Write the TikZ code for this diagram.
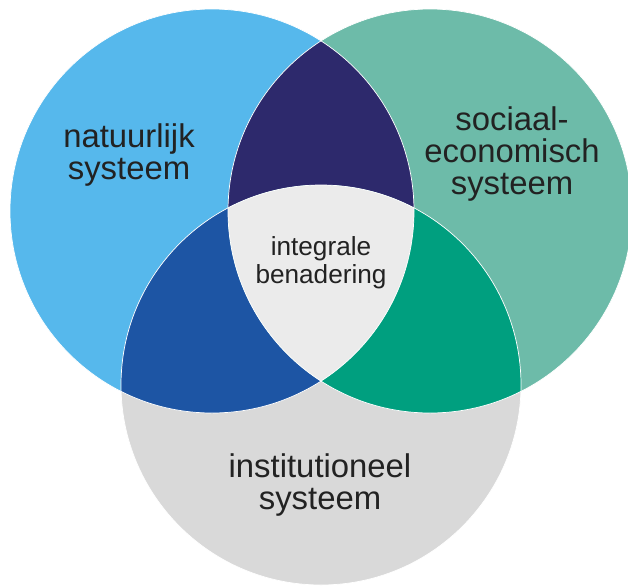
\documentclass[tikz,border=0pt]{standalone}
\usepackage{fontspec}
\setmainfont{Liberation Sans}
\definecolor{natblue}{HTML}{56B8EC}
\definecolor{socteal}{HTML}{6DBBA9}
\definecolor{insgray}{HTML}{D9D9D9}
\definecolor{natsoc}{HTML}{2D296C}
\definecolor{natins}{HTML}{1D55A4}
\definecolor{socins}{HTML}{009F7F}
\definecolor{allthree}{HTML}{EBEBEB}
\definecolor{lbltext}{HTML}{222222}
\usetikzlibrary{positioning}

\begin{document}
\begin{tikzpicture}[
  x=0.02cm,y=-0.02cm,
  lbl/.style={font=\fontsize{18.7}{18.1}\selectfont,text=lbltext,align=center,inner sep=0pt},
  midlbl/.style={font=\fontsize{14.9}{15.9}\selectfont,text=lbltext,align=center,inner sep=0pt},
  edge/.style={white,line width=0.4pt}
]
  \useasboundingbox (0,0) rectangle (628,585);
  % circle centres
  \coordinate (cnat) at (212,211);
  \coordinate (csoc) at (430,211);
  \coordinate (cins) at (321,385);
  % the three systems
  \fill[natblue] (cnat) circle[radius=202];
  \fill[socteal] (csoc) circle[radius=202];
  \fill[insgray] (cins) circle[radius=200];
  % overlaps
  \begin{scope}
    \clip (cnat) circle[radius=202];
    \fill[natsoc] (csoc) circle[radius=202];
    \fill[natins] (cins) circle[radius=200];
    \clip (csoc) circle[radius=202];
    \fill[allthree] (cins) circle[radius=200];
  \end{scope}
  \begin{scope}
    \clip (csoc) circle[radius=202];
    \fill[socins] (cins) circle[radius=200];
    \clip (cnat) circle[radius=202];
    \fill[allthree] (cins) circle[radius=200];
  \end{scope}
  % thin seams
  \draw[edge] (cnat) circle[radius=202];
  \draw[edge] (csoc) circle[radius=202];
  \draw[edge] (cins) circle[radius=200];
  % labels
  \node[lbl] (nat) at (129,155) {natuurlijk\\systeem};
  \node[lbl] (soc) at (512,154) {sociaal-\\economisch\\systeem};
  \node[lbl] (ins) at (320,485) {institutioneel\\systeem};
  \node[midlbl] (mid) at (321,263) {integrale\\benadering};
\end{tikzpicture}
\end{document}
